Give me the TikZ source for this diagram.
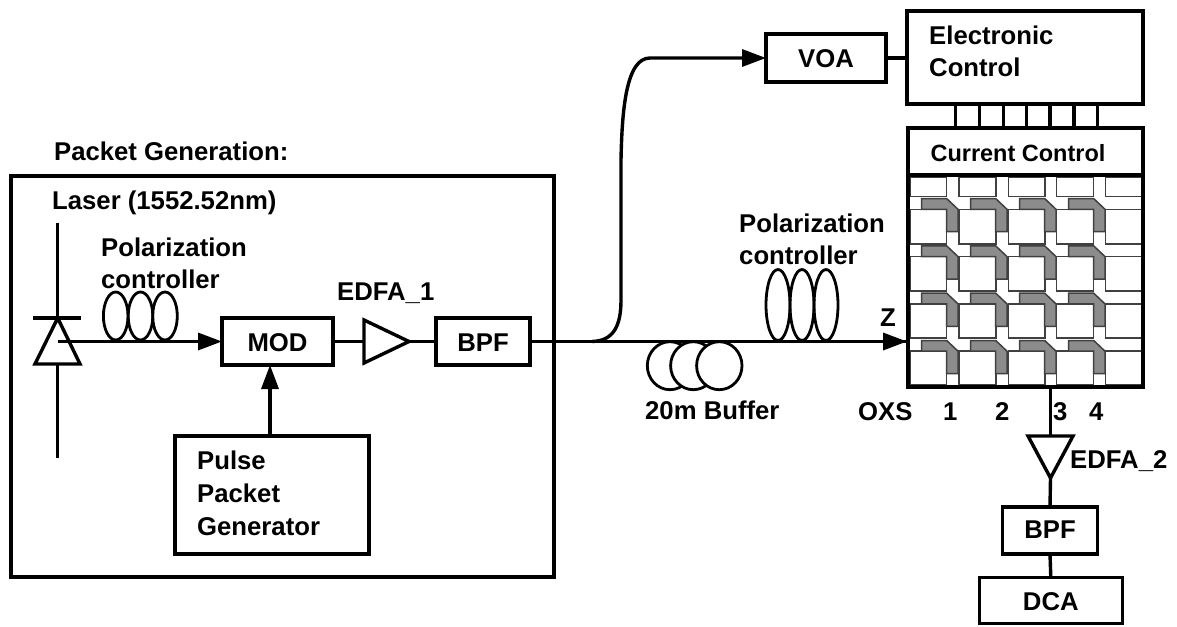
\documentclass[tikz,border=0pt]{standalone}
\usepackage{fontspec}
\setmainfont{Liberation Sans}
\usetikzlibrary{arrows.meta}
\tikzset{
 x=1pt,y=-1pt,
 boxnode/.style={draw=black,line width=3.6pt,fill=white,inner sep=0pt,outer sep=0pt},
 lab/.style={anchor=base west,inner sep=0pt,font=\fontsize{25.7}{25.7}\selectfont\bfseries},
 wire/.style={line width=3.4pt,black},
 arrowwire/.style={wire,-{Triangle[length=24pt,width=17pt]}},
 coil/.style={line width=2.8pt,black},
 cellbox/.style={draw=black!75,line width=1.5pt,fill=white},
 guide/.style={draw=black!75,line width=1.5pt,fill=black!45},
}
\begin{document}
\begin{tikzpicture}
\useasboundingbox (0,0) rectangle (1177,626);
\fill[white] (0,0) rectangle (1177,626);
% packet box
\node[boxnode,minimum width=543pt,minimum height=401pt] (packet) at (282.5,376.5) {};
\node[lab] (tpg) at (54,160) {Packet Generation:};
\node[lab] (tlaser) at (52,209) {Laser (1552.52nm)};
% blocks
\node[boxnode,minimum width=111pt,minimum height=47pt] (mod) at (277.5,341.5) {};
\node[lab,anchor=base] (tmod) at (277.5,351) {MOD};
\node[boxnode,minimum width=94pt,minimum height=47pt] (bpfa) at (483,341.5) {};
\node[lab,anchor=base] (tbpfa) at (483,351) {BPF};
\node[boxnode,minimum width=194pt,minimum height=118pt] (pulse) at (272,495) {};
\node[lab] (tp1) at (197,469) {Pulse};
\node[lab] (tp2) at (197,502) {Packet};
\node[lab] (tp3) at (197,535) {Generator};
\node[boxnode,minimum width=120pt,minimum height=48pt] (voa) at (826,58) {};
\node[lab,anchor=base] (tvoa) at (826,67) {VOA};
\node[boxnode,minimum width=236pt,minimum height=93pt] (elec) at (1025,57.5) {};
\node[lab] (te1) at (929,45) {Electronic};
\node[lab] (te2) at (929,77) {Control};
\node[boxnode,minimum width=95pt,minimum height=47.5pt] (bpfb) at (1050,530.5) {};
\node[lab,anchor=base] (tbpfb) at (1050,538.5) {BPF};
\node[boxnode,minimum width=143pt,minimum height=46pt] (dca) at (1050.8,600.5) {};
\node[lab,anchor=base] (tdca) at (1050.8,610) {DCA};
% switch matrix
\fill[white] (908,128) rectangle (1143,387);
\foreach \xa/\xb in {910.7/946.7,959/996,1008.3/1045,1056.7/1093.3,1105.7/1141.7}{
 \foreach \ya/\yb in {177/196.7,209.3/244,256.7/291,304/338,351/385}{
  \draw[cellbox] (\xa,\ya) rectangle (\xb,\yb);
 }}
\foreach \i in {0,1,2,3}{
 \foreach \j in {0,1,2,3}{
  \begin{scope}[shift={(49*\i,47.3*\j)}]
   \draw[guide] (921.7,198.6) -- (946.7,198.6) -- (958,209.3) -- (958,231.7) -- (946.7,231.7) -- (946.7,209.3) -- (921.7,209.3) -- cycle;
  \end{scope}
 }}
\node[boxnode,fill=none,minimum width=235pt,minimum height=259pt] (matrix) at (1025.5,257.5) {};
\node[boxnode,minimum width=235pt,minimum height=47pt] (cur) at (1025.5,151.5) {};
\node[lab,anchor=base,font=\fontsize{23.5}{23.5}\selectfont\bfseries] (tcur) at (1018,161) {Current Control};
% control bus
\foreach \x/\n in {955.7/a,979.3/b,1003.3/c,1026.7/d,1050/e,1074/f,1097.3/g}{
 \draw[wire] (\x,104) coordinate (bus\n t) -- (\x,128) coordinate (bus\n b);
}
% diode
\coordinate (dtop) at (57.7,223);
\coordinate (dapex) at (57.7,318);
\coordinate (dl) at (35,364);
\coordinate (dr) at (80,364);
\coordinate (dbase) at (57.7,364);
\coordinate (dbot) at (57.7,458);
\coordinate (dout) at (57.7,341.5);
\coordinate (bl) at (33.3,318);
\coordinate (br) at (80.7,318);
\draw[wire] (dtop) -- (dapex);
\draw[wire] (bl) -- (br);
\draw[wire,line join=miter] (dapex) -- (dr) -- (dl) -- cycle;
\draw[wire] (dbase) -- (dbot);
% polarization controller 1
\foreach \x in {115.7,140.5,165}{\draw[coil] (\x,316) ellipse [x radius=12.3,y radius=24];}
\draw[arrowwire] (dout) -- (mod.west);
\draw[arrowwire] (pulse.north -| 270,436) -- (270,365);
\node[lab] (t1) at (101,256.7) {Polarization};
\node[lab] (t2) at (101,288) {controller};
% EDFA 1
\coordinate (e1a) at (364,320);
\coordinate (e1b) at (364,363);
\coordinate (e1c) at (364,341.5);
\coordinate (e1t) at (409,341.5);
\draw[wire,line join=miter] (e1a) -- (e1t) -- (e1b) -- cycle;
\draw[wire] (mod.east) -- (e1c);
\draw[wire] (e1t) -- (bpfa.west);
\node[lab] (te) at (337,300) {EDFA\_1};
% main line
\coordinate (zin) at (907,341.5);
\draw[arrowwire] (bpfa.east) -- (zin);
\draw[arrowwire] (592,341.5) .. controls (614,341) and (621,325) .. (621,300) -- (621,160) .. controls (622,110) and (626,58) .. (650,58) -- (voa.west);
\draw[wire] (voa.east) -- (elec.west |- voa.east);
% buffer coils
\foreach \x in {670,693.3,719.3}{\draw[coil,fill=white] (\x,365.7) ellipse [x radius=22.7,y radius=24];}
\draw[wire] (bpfa.east) -- (zin);
\node[lab] (tb) at (645,419.3) {20m Buffer};
% pol controller 2
\foreach \x in {778,802,826}{\draw[coil] (\x,305) ellipse [x radius=12,y radius=35.5];}
\node[lab] (t3) at (739,232.7) {Polarization};
\node[lab] (t4) at (739,264) {controller};
\node[lab] (tz) at (880,326) {Z};
\node[lab] (toxs) at (858,420) {OXS};
\node[lab] (n1) at (943,420) {1};
\node[lab] (n2) at (995,420) {2};
\node[lab] (n3) at (1053,420) {3};
\node[lab] (n4) at (1089,420) {4};
% output
\coordinate (e2a) at (1028,436);
\coordinate (e2b) at (1073,436);
\coordinate (e2c) at (1050.5,436);
\coordinate (e2t) at (1050.5,478);
\draw[wire] (matrix.south -| e2c) -- (e2c);
\draw[wire,line join=miter] (e2a) -- (e2b) -- (e2t) -- cycle;
\draw[wire] (e2t) -- (bpfb.north);
\draw[wire] (bpfb.south) -- (dca.north);
\node[lab] (te2b) at (1070,468) {EDFA\_2};
\end{tikzpicture}
\end{document}
